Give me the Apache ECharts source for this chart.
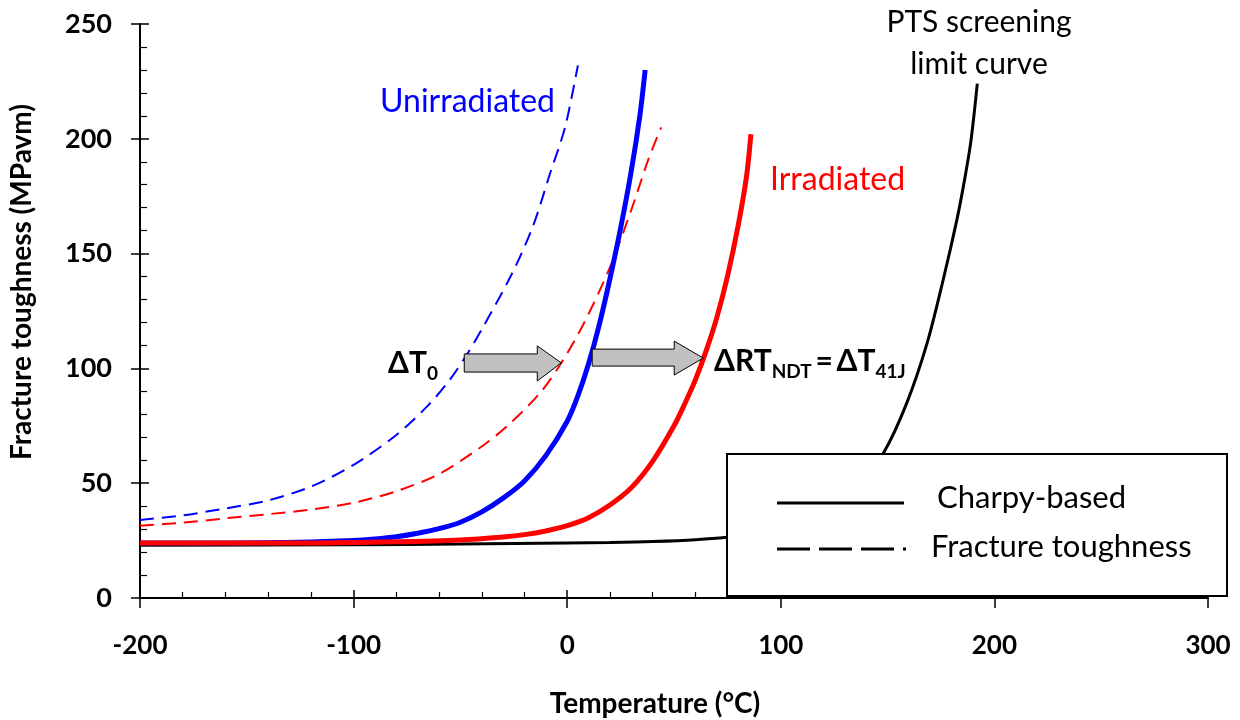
<!DOCTYPE html>
<html>
<head>
<meta charset="utf-8">
<script src="https://cdn.jsdelivr.net/npm/echarts@6/dist/echarts.min.js"></script>
<style>
  html, body { margin: 0; padding: 0; background: #fff; }
  #main { width: 1240px; height: 720px; }
</style>
</head>
<body>
<div id="main"></div>
<script>
// [temperature °C, toughness MPa√m]
const unirrCharpy = [[-200, 24], [-160, 24], [-120, 24.4], [-100, 25], [-90, 25.7], [-80, 26.7], [-70, 28.2], [-60, 30.2], [-50, 33], [-40, 37.5], [-30, 43.5], [-20, 51], [-10, 62], [0, 77], [5, 88], [10, 102], [15, 119], [20, 139], [25, 161], [30, 186], [34, 210], [36.5, 230]];
const irrCharpy = [[-200, 24], [-120, 24], [-80, 24.5], [-50, 25.3], [-30, 26.6], [-20, 27.6], [-10, 29.2], [0, 31.5], [10, 35], [20, 40.5], [30, 48], [40, 59.5], [50, 75], [55, 84.5], [60, 95], [65, 107.5], [70, 122], [75, 140], [80, 162], [84, 184], [86, 202]];
const unirrFT = [[-200, 34], [-180, 36], [-160, 39], [-140, 42.5], [-120, 48.5], [-100, 58], [-80, 71], [-65, 84], [-55, 95], [-47, 106], [-40, 117], [-26, 141], [-16, 162], [-8, 185], [-1, 205], [5, 232]];
const irrFT = [[-200, 31.5], [-180, 32.8], [-160, 34.7], [-140, 36.5], [-120, 38.5], [-100, 41.5], [-80, 46.5], [-60, 54], [-40, 66], [-28, 75], [-13, 89], [-3, 102], [8, 120], [20, 144], [30, 169], [38, 191], [44, 205]];
const ptsLimit = [[-200, 23], [-100, 23.2], [-50, 23.5], [0, 24], [20, 24.2], [40, 24.6], [60, 25.4], [80, 27], [100, 30], [120, 37], [135, 47], [148, 63], [159, 85], [168.5, 111], [176, 138.5], [182.5, 165], [186, 182], [189, 199], [192, 224]];

const xTicks = { min: -200, max: 300, step: 100 };
const yTicks = { min: 0, max: 250, step: 50 };

// block arrows for the shifts, in data units: [x0, xHead, xTip, yBodyLo, yBodyHi, yHeadLo, yHeadHi, yTip]
const shiftArrows = [
  [-48.2, -14, -2.8, 98.4, 106.3, 94.5, 109.8, 102.4],
  [11.7, 50.1, 63.7, 101, 108.4, 97.1, 111.9, 104.5]
];

const FONT = 'Lato, "DejaVu Sans", sans-serif';

const chart = echarts.init(document.getElementById('main'));

function lineSeries(name, data, color, width, dashed, z) {
  return {
    name: name,
    type: 'line',
    data: data,
    smooth: 0.3,
    showSymbol: false,
    z: z,
    lineStyle: { color: color, width: width, type: dashed ? [14, 8] : 'solid' },
    emphasis: { disabled: true }
  };
}

const xBase = {
  type: 'value', min: xTicks.min, max: xTicks.max, interval: xTicks.step,
  position: 'bottom', splitLine: { show: false }
};
const yBase = {
  type: 'value', min: yTicks.min, max: yTicks.max, interval: yTicks.step,
  position: 'left', splitLine: { show: false }
};

chart.setOption({
  animation: false,
  grid: { left: 140, right: 32, top: 24, bottom: 122, outerBoundsMode: 'none', containLabel: false },
  xAxis: [
    Object.assign({}, xBase, {
      name: 'Temperature (°C)',
      nameLocation: 'middle',
      nameGap: 92,
      nameTextStyle: { fontFamily: FONT, fontWeight: 'bold', fontSize: 28, color: '#000', padding: [0, 38, 0, 0] },
      axisLine: { onZero: false, lineStyle: { color: '#000', width: 2 } },
      axisTick: { inside: true, length: 8, lineStyle: { color: '#000', width: 1.5 } },
      minorTick: { show: true, splitNumber: 5, length: 6, lineStyle: { color: '#000', width: 1.2 } },
      axisLabel: { margin: 35, fontFamily: FONT, fontWeight: 'bold', fontSize: 26, color: '#000' }
    }),
    Object.assign({}, xBase, {
      axisLine: { show: false, onZero: false },
      axisTick: { inside: false, length: 10, lineStyle: { color: '#000', width: 1.5 } },
      axisLabel: { show: false }
    })
  ],
  yAxis: [
    Object.assign({}, yBase, {
      name: 'Fracture toughness (MPavm)',
      nameLocation: 'middle',
      nameGap: 104,
      nameTextStyle: { fontFamily: FONT, fontWeight: 'bold', fontSize: 28, color: '#000', padding: [0, 0, 0, 58] },
      axisLine: { onZero: false, lineStyle: { color: '#000', width: 2 } },
      axisTick: { inside: true, length: 9, lineStyle: { color: '#000', width: 1.5 } },
      minorTick: { show: true, splitNumber: 5, length: 7, lineStyle: { color: '#000', width: 1.2 } },
      axisLabel: { margin: 28, fontFamily: FONT, fontWeight: 'bold', fontSize: 27, color: '#000' }
    }),
    Object.assign({}, yBase, {
      axisLine: { show: false, onZero: false },
      axisTick: { inside: false, length: 9, lineStyle: { color: '#000', width: 1.5 } },
      axisLabel: { show: false }
    })
  ],
  series: [
    lineSeries('PTS screening limit curve', ptsLimit, '#000', 3, false, 2),
    lineSeries('Irradiated fracture toughness', irrFT, '#ff0000', 2, true, 3),
    lineSeries('Unirradiated fracture toughness', unirrFT, '#0000ff', 2, true, 3),
    lineSeries('Unirradiated Charpy-based', unirrCharpy, '#0000ff', 5, false, 4),
    lineSeries('Irradiated Charpy-based', irrCharpy, '#ff0000', 5, false, 4)
  ]
});

function px(x, y) {
  return chart.convertToPixel({ xAxisIndex: 0, yAxisIndex: 0 }, [x, y]);
}

const arrowShapes = shiftArrows.map(function (a) {
  const pts = [
    px(a[0], a[3]), px(a[1], a[3]), px(a[1], a[5]), px(a[2], a[7]),
    px(a[1], a[6]), px(a[1], a[4]), px(a[0], a[4])
  ];
  return {
    type: 'polygon', z: 50,
    shape: { points: pts },
    style: { fill: '#c0c0c0', stroke: '#000', lineWidth: 1 }
  };
});

const subRich = {
  m: { fontFamily: FONT, fontWeight: 'bold', fontSize: 30, lineHeight: 40, verticalAlign: 'middle', fill: '#000' },
  s: { fontFamily: FONT, fontWeight: 'bold', fontSize: 19, lineHeight: 20, verticalAlign: 'bottom', fill: '#000' }
};

const textStyle = function (txt, color, size) {
  return { text: txt, fill: color, font: size + 'px ' + FONT, textVerticalAlign: 'middle' };
};

chart.setOption({
  graphic: arrowShapes.concat([
    { type: 'text', z: 60, x: 380, y: 102, style: textStyle('Unirradiated', '#0000ff', 32) },
    { type: 'text', z: 60, x: 770, y: 180, style: textStyle('Irradiated', '#ff0000', 32) },
    {
      type: 'text', z: 60, x: 979, y: 43,
      style: { text: 'PTS screening\nlimit curve', fill: '#000', font: '30px ' + FONT, textAlign: 'center', textVerticalAlign: 'middle', lineHeight: 42 }
    },
    {
      type: 'text', z: 60, x: 388, y: 363,
      style: { text: '{m|ΔT}{s|0}', rich: subRich, textVerticalAlign: 'middle' }
    },
    {
      type: 'text', z: 60, x: 714, y: 361,
      style: { text: '{m|ΔRT}{s|NDT}{m|\u2009=\u2009ΔT}{s|41J}', rich: subRich, textVerticalAlign: 'middle' }
    },
    // legend box
    { type: 'rect', z: 80, shape: { x: 727, y: 454, width: 500, height: 142 }, style: { fill: '#fff', stroke: '#000', lineWidth: 2 } },
    { type: 'line', z: 81, shape: { x1: 777, y1: 503, x2: 904, y2: 503 }, style: { stroke: '#000', lineWidth: 3 } },
    { type: 'line', z: 81, shape: { x1: 777, y1: 549, x2: 906, y2: 549 }, style: { stroke: '#000', lineWidth: 3, lineDash: [33, 9] } },
    { type: 'text', z: 81, x: 937, y: 498, style: textStyle('Charpy-based', '#000', 31) },
    { type: 'text', z: 81, x: 931, y: 547, style: textStyle('Fracture toughness', '#000', 31) }
  ])
});
</script>
</body>
</html>
